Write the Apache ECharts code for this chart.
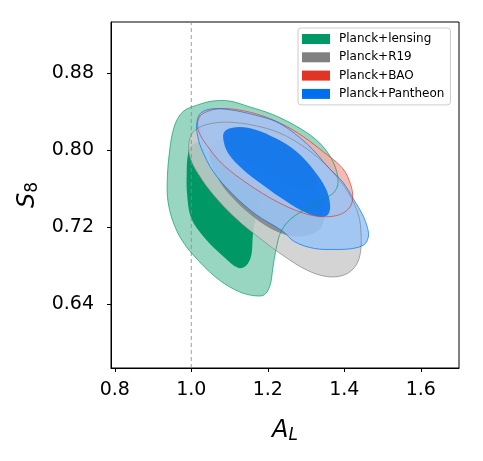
<!DOCTYPE html>
<html>
<head>
<meta charset="utf-8">
<script src="https://cdn.jsdelivr.net/npm/echarts@6/dist/echarts.min.js"></script>
<style>
  html, body { margin: 0; padding: 0; background: #fff; }
  #chart { width: 483px; height: 461px; }
</style>
</head>
<body>
<div id="chart"></div>
<script>
// axis ranges and ticks
var xRange = [0.79, 1.70]
var yRange = [0.574, 0.933]
var xTicks = [0.8, 1.0, 1.2, 1.4, 1.6]
var yTicks = [0.64, 0.72, 0.80, 0.88]
var refX = 1.0

var names = ['Planck+lensing', 'Planck+R19', 'Planck+BAO', 'Planck+Pantheon']

// contour outlines [A_L, S8]; *2 = 95% region, *1 = 68% region
var lensing2 = [[0.937, 0.767], [0.942, 0.795], [0.955, 0.824], [0.978, 0.840], [1.017, 0.847], [1.057, 0.851],
  [1.100, 0.851], [1.152, 0.845], [1.213, 0.837], [1.274, 0.825], [1.326, 0.811], [1.361, 0.795], [1.380, 0.778],
  [1.383, 0.764], [1.370, 0.755], [1.348, 0.750], [1.309, 0.741], [1.261, 0.729], [1.235, 0.716], [1.222, 0.698],
  [1.213, 0.677], [1.206, 0.660], [1.191, 0.650], [1.165, 0.649], [1.126, 0.653], [1.074, 0.665], [1.022, 0.684],
  [0.978, 0.705], [0.952, 0.726], [0.939, 0.747]]
var lensing1 = [[1.000, 0.805], [1.039, 0.809], [1.100, 0.802], [1.152, 0.785], [1.178, 0.760], [1.170, 0.733],
  [1.161, 0.712], [1.157, 0.691], [1.143, 0.680], [1.122, 0.678], [1.083, 0.690], [1.035, 0.709], [1.000, 0.729],
  [0.989, 0.754], [0.988, 0.778], [0.991, 0.795]]
var r19_2 = [[0.993, 0.804], [1.000, 0.816], [1.022, 0.824], [1.057, 0.828], [1.100, 0.829], [1.161, 0.826],
  [1.230, 0.818], [1.300, 0.802], [1.361, 0.781], [1.409, 0.757], [1.437, 0.733], [1.444, 0.712], [1.441, 0.691],
  [1.426, 0.678], [1.396, 0.670], [1.352, 0.669], [1.300, 0.676], [1.239, 0.691], [1.178, 0.709], [1.117, 0.729],
  [1.057, 0.754], [1.017, 0.776], [0.997, 0.792]]
var r19_1 = [[1.048, 0.802], [1.083, 0.812], [1.143, 0.812], [1.222, 0.799], [1.300, 0.774], [1.343, 0.747],
  [1.343, 0.722], [1.309, 0.712], [1.248, 0.712], [1.178, 0.726], [1.109, 0.750], [1.065, 0.774]]
var bao2 = [[1.017, 0.830], [1.030, 0.838], [1.074, 0.843], [1.135, 0.841], [1.204, 0.833], [1.274, 0.819],
  [1.343, 0.799], [1.396, 0.781], [1.417, 0.764], [1.422, 0.750], [1.413, 0.740], [1.387, 0.733], [1.343, 0.731],
  [1.291, 0.735], [1.222, 0.747], [1.152, 0.764], [1.083, 0.785], [1.039, 0.806], [1.020, 0.819]]
var bao1 = [[1.087, 0.814], [1.100, 0.821], [1.135, 0.823], [1.187, 0.818], [1.248, 0.806], [1.300, 0.788],
  [1.326, 0.771], [1.322, 0.760], [1.291, 0.759], [1.239, 0.767], [1.178, 0.781], [1.126, 0.795], [1.093, 0.806]]
var pantheon2 = [[1.015, 0.830], [1.026, 0.839], [1.057, 0.843], [1.100, 0.842], [1.161, 0.837], [1.230, 0.828],
  [1.304, 0.806], [1.361, 0.781], [1.396, 0.767], [1.426, 0.748], [1.448, 0.733], [1.461, 0.719], [1.463, 0.710],
  [1.452, 0.702], [1.422, 0.698], [1.378, 0.697], [1.322, 0.698], [1.270, 0.705], [1.239, 0.716], [1.170, 0.733],
  [1.109, 0.754], [1.057, 0.778], [1.026, 0.802], [1.015, 0.818]]
var pantheon1 = [[1.083, 0.814], [1.091, 0.821], [1.126, 0.824], [1.170, 0.821], [1.222, 0.812], [1.274, 0.799],
  [1.317, 0.781], [1.352, 0.760], [1.363, 0.743], [1.357, 0.733], [1.335, 0.731], [1.300, 0.735], [1.248, 0.747],
  [1.187, 0.764], [1.135, 0.780], [1.096, 0.797]]

var dark = ['#009966', '#808080', '#e03424', '#006fed']
var light = ['#99d6c2', '#cccccc', '#f3aea7', '#99c5f8']
// first contour set is drawn solid, the ones added on top are slightly see-through
var fillAlpha = [1, 0.85, 0.85, 0.85]

var font = 'DejaVu Sans'

function region(name, pts, fill, stroke, alpha, z) {
  return {
    type: 'custom',
    name: name,
    z: z,
    silent: true,
    coordinateSystem: 'cartesian2d',
    data: pts,
    encode: { x: 0, y: 1 },
    renderItem: function(params, api) {
      if (params.dataIndex !== 0) return
      var points = pts.map(function(p) { return api.coord(p) })
      return {
        type: 'polygon',
        shape: { points: points, smooth: 0.35 },
        style: stroke
          ? { fill: 'none', stroke: stroke, lineWidth: 0.9, opacity: alpha }
          : { fill: fill, opacity: alpha }
      }
    }
  }
}

var chart = echarts.init(document.getElementById('chart'))

var sets = [[lensing2, lensing1], [r19_2, r19_1], [bao2, bao1], [pantheon2, pantheon1]]
var series = [{
  type: 'line',
  name: 'ref',
  z: 3,
  silent: true,
  symbol: 'none',
  data: [[refX, yRange[0]], [refX, yRange[1]]],
  lineStyle: { color: '#888', width: 0.8, type: [4, 3] }
}]
sets.forEach(function(s, i) {
  series.push(region(names[i] + ' 95', s[0], light[i], null, fillAlpha[i], 2))
  series.push(region(names[i], s[1], dark[i], null, fillAlpha[i], 2))
})
sets.forEach(function(s, i) {
  series.push(region(names[i] + ' line', s[0], null, dark[i], 0.75, 4))
})

chart.setOption({
  animation: false,
  grid: { left: 111, right: 24, top: 22, bottom: 93, show: true, borderColor: '#000', borderWidth: 1, outerBoundsMode: 'none' },
  legend: {
    orient: 'vertical',
    left: 298,
    top: 28,
    padding: [4, 6, 4, 4],
    itemWidth: 28,
    itemHeight: 10,
    itemGap: 4.3,
    icon: 'rect',
    backgroundColor: '#fff',
    borderColor: '#cccccc',
    borderWidth: 1,
    borderRadius: 3,
    textStyle: { fontFamily: font, fontSize: 12, lineHeight: 14, color: '#000', padding: [0, 0, 0, 4] },
    data: names.map(function(n, i) { return { name: n, itemStyle: { color: dark[i], opacity: 1 } } })
  },
  xAxis: {
    type: 'value',
    min: xRange[0],
    max: xRange[1],
    name: '{a|A}{sub|L}',
    nameLocation: 'middle',
    nameGap: 48,
    nameTextStyle: {
      rich: {
        a: { fontFamily: font, fontStyle: 'italic', fontSize: 24, color: '#000', lineHeight: 30 },
        sub: { fontFamily: font, fontStyle: 'italic', fontSize: 17, color: '#000', lineHeight: 30, padding: [9, 0, 0, 0] }
      }
    },
    axisLine: { lineStyle: { color: '#000', width: 1 } },
    axisTick: { inside: false, length: 4, lineStyle: { color: '#000' }, customValues: xTicks },
    axisLabel: {
      customValues: xTicks,
      fontFamily: font, fontSize: 19, color: '#000', margin: 13,
      formatter: function(v) { return v.toFixed(1) }
    },
    splitLine: { show: false }
  },
  yAxis: {
    type: 'value',
    min: yRange[0],
    max: yRange[1],
    name: '{s|S}{sub|8}',
    nameLocation: 'middle',
    nameRotate: 90,
    nameGap: 67,
    nameTextStyle: {
      rich: {
        s: { fontFamily: font, fontStyle: 'italic', fontSize: 24, color: '#000', lineHeight: 30 },
        sub: { fontFamily: font, fontSize: 17, color: '#000', lineHeight: 30, padding: [9, 0, 0, 0] }
      }
    },
    axisLine: { lineStyle: { color: '#000', width: 1 } },
    axisTick: { inside: false, length: 4, lineStyle: { color: '#000' }, customValues: yTicks },
    axisLabel: {
      customValues: yTicks,
      fontFamily: font, fontSize: 19, color: '#000', margin: 17,
      formatter: function(v) { return v.toFixed(2) }
    },
    splitLine: { show: false }
  },
  series: series
})
</script>
</body>
</html>
